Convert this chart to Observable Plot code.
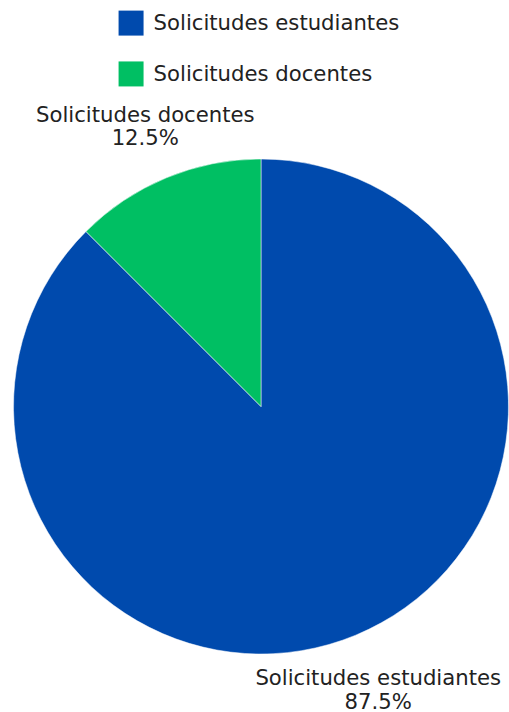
<!DOCTYPE html>
<html><head><meta charset="utf-8">
<script src="https://cdn.jsdelivr.net/npm/d3@7"></script>
<script src="https://cdn.jsdelivr.net/npm/@observablehq/plot@0.6"></script>
<style>body{margin:0;background:#fff}</style>
</head><body><div id="chart"></div>
<script>
// Data
const categories = ["Solicitudes estudiantes", "Solicitudes docentes"];
const values = [87.5, 12.5];
const percentLabels = ["87.5%", "12.5%"];
const colors = ["#004aad", "#00bf63"];

// Layout (unit-circle coordinates: pie center at 0,0, radius 1)
const legendY = [1.548, 1.343];
const legendSwatchX = -0.527;
const legendTextX = -0.436;
const FONT = "'DejaVu Sans', sans-serif";
const FS = 21.2;
const LH = 1.12;

const data = categories.map((c, i) => ({category: c, value: values[i], pct: percentLabels[i], ly: legendY[i]}));
const arcs = d3.pie().sort(null).value(d => d.value)(data);
const rows = arcs.map(a => {
  const mid = (a.startAngle + a.endAngle) / 2;
  return {...a.data, ox: Math.sin(mid), oy: Math.cos(mid), label: a.data.category + "\n" + a.data.pct};
});

function pieMark(index, scales) {
  const cx = scales.x(0), cy = scales.y(0);
  const r = (scales.x(1) - scales.x(-1)) / 2;
  const g = d3.create("svg:g").attr("transform", `translate(${cx},${cy})`);
  const arc = d3.arc().innerRadius(0).outerRadius(r);
  g.selectAll("path").data(arcs).join("path")
    .attr("d", arc)
    .attr("fill", d => scales.color ? scales.color(d.data.category) : colors[d.index])
    .attr("stroke", "#fff").attr("stroke-width", 0.5);
  return g.node();
}

const chart = Plot.plot({
  width: 509, height: 712, margin: 0,
  style: {fontFamily: FONT, background: "#fff"},
  x: {domain: [-1, 1], range: [13.5, 508.5], axis: null},
  y: {domain: [1, -1], range: [158.5, 654.5], axis: null},
  color: {domain: categories, range: colors},
  marks: [
    pieMark,
    Plot.dot(data, {x: () => legendSwatchX, y: "ly", fill: "category", symbol: "square", r: 14.1}),
    Plot.text(data, {x: () => legendTextX, y: "ly", text: "category", textAnchor: "start", fontSize: FS, fill: "#222"}),
    Plot.text(rows.filter(d => d.oy > 0), {x: "ox", y: "oy", text: "label", textAnchor: "middle", lineAnchor: "middle", lineHeight: LH, dx: -21.5, dy: -52, fontSize: FS, fill: "#222"}),
    Plot.text(rows.filter(d => d.oy <= 0), {x: "ox", y: "oy", text: "label", textAnchor: "middle", lineAnchor: "middle", lineHeight: LH, dx: 22, dy: 53, fontSize: FS, fill: "#222"})
  ]
});
document.getElementById("chart").append(chart);
</script>
</body></html>
